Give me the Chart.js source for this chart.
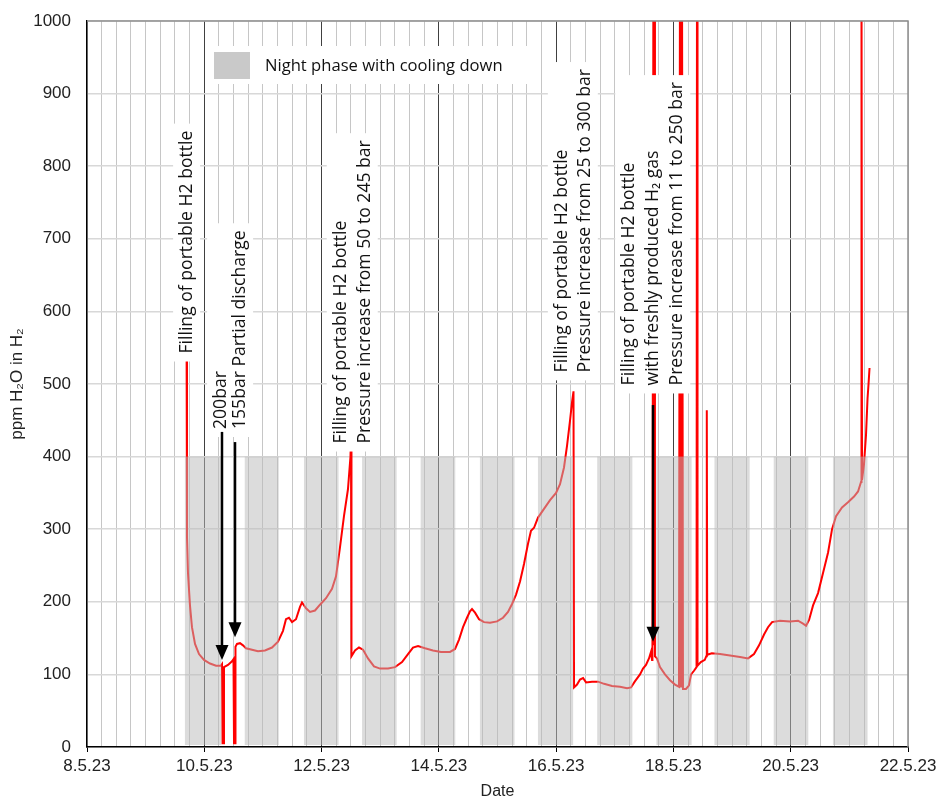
<!DOCTYPE html>
<html>
<head>
<meta charset="utf-8">
<script src="https://cdn.jsdelivr.net/npm/chart.js@4.4.1/dist/chart.umd.min.js"></script>
<style>
  html, body { margin: 0; padding: 0; background: #fff; }
  #wrap { width: 941px; height: 803px; }
</style>
</head>
<body>
<div id="wrap"><canvas id="fukt" width="941" height="803"></canvas></div>
<script>
// Time in days of May 2023 (9.5 = 9.5.23 12:00), humidity in ppm H2O
const tid = [
  9.697, 9.705, 9.722, 9.756, 9.790, 9.842, 9.910, 9.995, 10.098, 10.200,
  10.285, 10.302, 10.311, 10.328, 10.336, 10.404, 10.473, 10.498, 10.507, 10.524,
  10.532, 10.558, 10.609, 10.660, 10.711, 10.814, 10.916, 11.035, 11.155, 11.257,
  11.342, 11.393, 11.444, 11.496, 11.564, 11.632, 11.666, 11.735, 11.803, 11.888,
  11.973, 12.076, 12.178, 12.246, 12.314, 12.382, 12.450, 12.493, 12.502, 12.510,
  12.570, 12.638, 12.707, 12.792, 12.894, 12.997, 13.133, 13.252, 13.372, 13.474,
  13.559, 13.645, 13.764, 13.900, 14.037, 14.190, 14.276, 14.344, 14.412, 14.480,
  14.531, 14.565, 14.617, 14.685, 14.770, 14.872, 14.992, 15.094, 15.179, 15.248,
  15.316, 15.384, 15.452, 15.520, 15.571, 15.623, 15.691, 15.793, 15.896, 15.998,
  16.066, 16.134, 16.186, 16.237, 16.271, 16.296, 16.305, 16.356, 16.407, 16.459,
  16.510, 16.612, 16.714, 16.817, 16.953, 17.089, 17.209, 17.277, 17.340, 17.430,
  17.481, 17.532, 17.583, 17.617, 17.635, 17.642, 17.659, 17.668, 17.676, 17.685,
  17.720, 17.771, 17.856, 17.942, 18.027, 18.095, 18.112, 18.129, 18.146, 18.163,
  18.214, 18.266, 18.300, 18.351, 18.394, 18.402, 18.411, 18.467, 18.535, 18.560,
  18.569, 18.577, 18.654, 18.794, 18.965, 19.136, 19.272, 19.374, 19.460, 19.545,
  19.613, 19.682, 19.818, 19.989, 20.125, 20.210, 20.262, 20.313, 20.381, 20.466,
  20.552, 20.637, 20.705, 20.773, 20.875, 20.977, 21.080, 21.148, 21.199, 21.207,
  21.216, 21.250, 21.284, 21.310, 21.327, 21.344
];
const ppm = [
  600, 290, 240, 195, 165, 142, 128, 120, 115, 112,
  112, 114, 5, 5, 110, 113, 118, 121, 5, 5,
  138, 142, 143, 140, 136, 134, 132, 133, 137, 145,
  160, 176, 178, 172, 176, 193, 199, 191, 186, 188,
  196, 205, 218, 235, 275, 318, 355, 400, 430, 125,
  133, 137, 134, 122, 111, 108, 108, 110, 117, 128,
  137, 139, 136, 133, 131, 131, 135, 148, 165, 178,
  187, 190, 185, 176, 172, 171, 173, 178, 186, 197,
  210, 228, 252, 280, 298, 302, 316, 328, 340, 350,
  362, 385, 415, 450, 475, 490, 82, 86, 93, 95,
  89, 90, 90, 87, 84, 83, 81, 82, 90, 100,
  108, 113, 122, 131, 120, 143, 1100, 140, 1100, 125,
  122, 110, 100, 92, 86, 83, 1100, 82, 1100, 80,
  80, 85, 100, 105, 110, 1100, 112, 117, 120, 125,
  464, 127, 129, 128, 126, 124, 122, 128, 140, 155,
  165, 172, 174, 173, 174, 170, 167, 175, 195, 212,
  240, 268, 300, 318, 330, 337, 345, 352, 365, 1100,
  368, 390, 430, 480, 500, 522
];

// Night phases with cooling down (days of May), shaded up to 400 ppm
const nattStart = [9.67, 10.69, 11.70, 12.69, 13.69, 14.70, 15.69, 16.70, 17.71, 18.70, 19.71, 20.72];
const nattSlutt = [10.29, 11.27, 12.29, 13.28, 14.28, 15.29, 16.29, 17.30, 18.31, 19.30, 20.30, 21.31];
const nattTopp = 400;
const nattTekst = 'Night phase with cooling down';

// Axis
const dagMin = 8, dagMax = 22;
const ppmMin = 0, ppmMax = 1000;

// Notes: text lines, day of first line, ppm where the text starts
const notatTekst = [
  ['Filling of portable H2 bottle'],
  ['200bar', '155bar Partial discharge'],
  ['Filling of portable H2 bottle', 'Pressure increase from 50 to 245 bar'],
  ['Filling of portable H2 bottle', 'Pressure increase from 25 to 300 bar'],
  ['Filling of portable H2 bottle', 'with freshly produced H\u2082 gas', 'Pressure increase from 11 to 250 bar']
];
const notatDag = [9.69, 10.27, 12.31, 16.08, 17.23];
const notatPpm = [542, 438, 418, 516, 498];
const notatAvstand = [0, 19, 24, 23, 24]; // line spacing px

// Arrows: day, from ppm, to ppm
const pilDag = [10.302, 10.524, 17.652];
const pilFra = [434, 420, 471];
const pilTil = [120, 151, 145];

const tekstFont = '"Open Sans", "Noto Sans", sans-serif';

function dagLabel(v) {
  return v + '.5.23';
}

function tegnPil(ctx, x, y0, y1) {
  const hode = 15, bredde = 6.5;
  ctx.strokeStyle = '#000';
  ctx.fillStyle = '#000';
  ctx.lineWidth = 2.5;
  ctx.beginPath();
  ctx.moveTo(x, y0);
  ctx.lineTo(x, y1 - hode + 1);
  ctx.stroke();
  ctx.beginPath();
  ctx.moveTo(x - bredde, y1 - hode);
  ctx.lineTo(x + bredde, y1 - hode);
  ctx.lineTo(x, y1);
  ctx.closePath();
  ctx.fill();
}

// font size so that a text gets the width it has in the original
function tilpassFont(ctx, tekst, bredde) {
  ctx.font = '100px ' + tekstFont;
  const str = 100 * bredde / ctx.measureText(tekst).width;
  return str.toFixed(1) + 'px ' + tekstFont;
}

// Draws night shading, frame, notes, arrows and the legend over the curve
const pyntPlugin = {
  id: 'pynt',
  afterDatasetsDraw(chart) {
    const { ctx, chartArea: a, scales: { x, y } } = chart;
    ctx.save();

    // night phases, half transparent over the line
    ctx.fillStyle = 'rgba(187,187,187,0.51)';
    const yTopp = y.getPixelForValue(nattTopp);
    const yBunn = y.getPixelForValue(0) - 2;
    for (let i = 0; i < nattStart.length; i++) {
      const x0 = x.getPixelForValue(nattStart[i]);
      const x1 = x.getPixelForValue(nattSlutt[i]);
      ctx.fillRect(x0, yTopp, x1 - x0, yBunn - yTopp);
    }

    // top and right frame
    ctx.strokeStyle = '#8e8e8e';
    ctx.lineWidth = 1.5;
    ctx.beginPath();
    ctx.moveTo(a.left, a.top);
    ctx.lineTo(a.right, a.top);
    ctx.lineTo(a.right, a.bottom);
    ctx.stroke();

    ctx.font = tilpassFont(ctx, 'Filling of portable H2 bottle', 223);

    // notes with white box
    for (let b = 0; b < notatTekst.length; b++) {
      const linjer = notatTekst[b];
      const x0 = x.getPixelForValue(notatDag[b]);
      const base = y.getPixelForValue(notatPpm[b]);
      const lengde = Math.max(...linjer.map(s => ctx.measureText(s).width));
      const gap = notatAvstand[b];
      ctx.fillStyle = '#fff';
      ctx.fillRect(x0 - 13, base - lengde - 7, (linjer.length - 1) * gap + 27, lengde + 15);
      ctx.fillStyle = '#111';
      ctx.textBaseline = 'middle';
      ctx.textAlign = 'left';
      linjer.forEach((s, k) => {
        ctx.save();
        ctx.translate(x0 + k * gap, base);
        ctx.rotate(-Math.PI / 2);
        ctx.fillText(s, 0, 1);
        ctx.restore();
      });
    }

    // arrows
    for (let i = 0; i < pilDag.length; i++) {
      tegnPil(ctx, x.getPixelForValue(pilDag[i]), y.getPixelForValue(pilFra[i]), y.getPixelForValue(pilTil[i]));
    }

    // legend
    ctx.fillStyle = '#fff';
    ctx.fillRect(a.left + 121, a.top + 25, 324, 38);
    ctx.fillStyle = '#c9c9c9';
    ctx.fillRect(a.left + 127, a.top + 31, 36, 27);
    ctx.fillStyle = '#111';
    ctx.textBaseline = 'middle';
    ctx.font = tilpassFont(ctx, nattTekst, 238);
    ctx.fillText(nattTekst, a.left + 178, a.top + 45);

    ctx.restore();
  }
};

function lagGraf() {
  const ctx = document.getElementById('fukt').getContext('2d');
  Chart.defaults.color = '#222';
  Chart.defaults.font.family = '"Liberation Sans", Arial, sans-serif';

  new Chart(ctx, {
    type: 'line',
    data: {
      datasets: [{
        label: 'ppm H2O',
        data: tid.map((t, i) => ({ x: t, y: ppm[i] })),
        borderColor: '#ff0000',
        borderWidth: 2,
        pointRadius: 0,
        tension: 0,
        fill: false
      }]
    },
    options: {
      responsive: false,
      animation: false,
      parsing: false,
      layout: { padding: { top: 21, right: 33, left: 0, bottom: 0 } },
      plugins: {
        legend: { display: false },
        tooltip: { enabled: false }
      },
      scales: {
        x: {
          type: 'linear',
          min: dagMin,
          max: dagMax,
          afterFit: s => { s.height = 56; },
          ticks: {
            stepSize: 0.25,
            autoSkip: false,
            maxRotation: 0,
            padding: 4,
            font: { size: 17 },
            callback: v => (v % 2 === 0 ? dagLabel(v) : '')
          },
          grid: {
            tickLength: 5,
            color: c => (c.tick && c.tick.value % 2 === 0 && c.tick.value > dagMin && c.tick.value < dagMax) ? '#404040' : '#c6c6c6',
            tickColor: c => (c.tick && c.tick.value % 2 === 0) ? '#000' : 'rgba(0,0,0,0)'
          },
          border: { color: '#000', width: 1.5 },
          title: {
            display: true,
            text: 'Date',
            font: { size: 16 },
            padding: { top: 0, bottom: 2 }
          }
        },
        y: {
          min: ppmMin,
          max: ppmMax,
          afterFit: s => { s.width = 87; },
          ticks: {
            stepSize: 100,
            padding: 4,
            font: { size: 17 },
            callback: v => String(v)
          },
          grid: {
            tickLength: 12,
            tickColor: 'rgba(0,0,0,0)',
            color: '#d8d8d8',
            lineWidth: 1.5
          },
          border: { color: '#000', width: 1.5 },
          title: {
            display: true,
            text: 'ppm H\u2082O in H\u2082',
            font: { size: 17 },
            padding: { top: 7, bottom: 0 }
          }
        }
      }
    },
    plugins: [pyntPlugin]
  });
}

window.onload = function () {
  lagGraf();
};
</script>
</body>
</html>
